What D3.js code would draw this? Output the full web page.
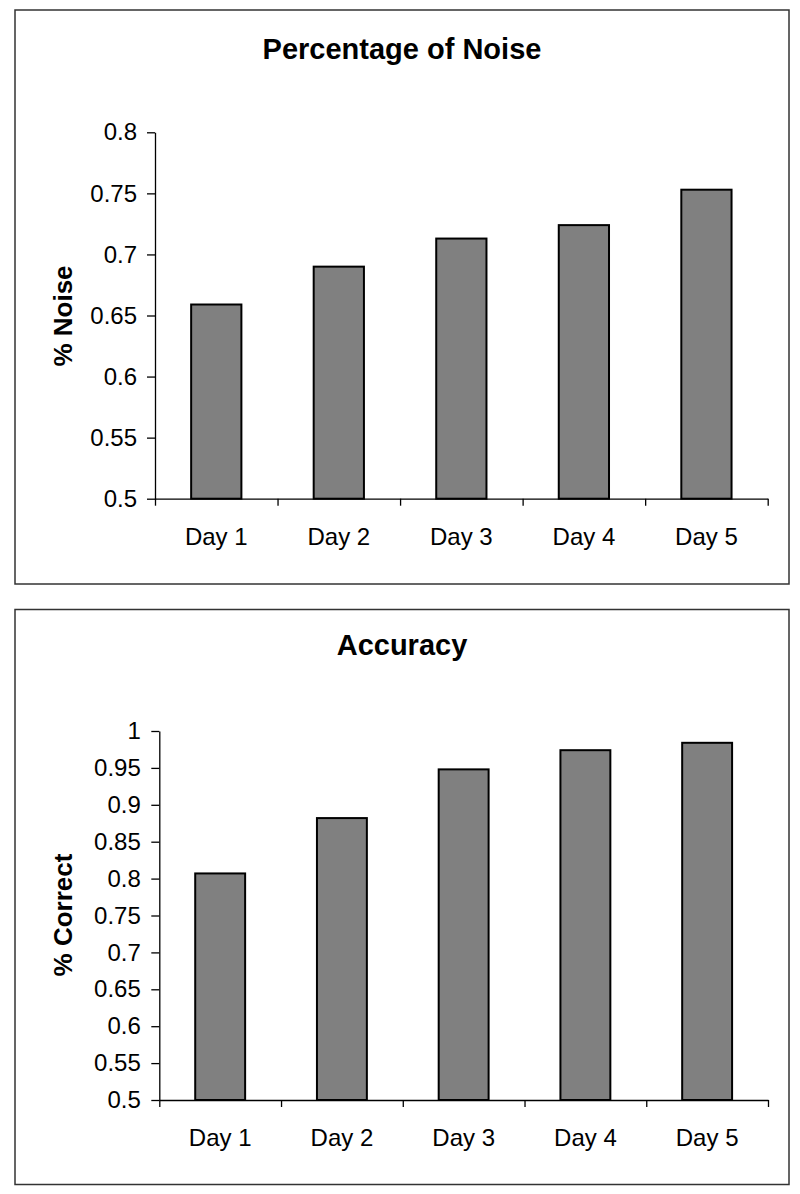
<!DOCTYPE html>
<html>
<head>
<meta charset="utf-8">
<script src="https://cdn.jsdelivr.net/npm/d3@7/dist/d3.min.js"></script>
<style>
  html, body { margin: 0; padding: 0; background: #fff; }
  svg { display: block; }
  text { font-family: "Liberation Sans", Arial, Helvetica, sans-serif; fill: #000; }
</style>
</head>
<body>
<svg id="chart" width="800" height="1194"></svg>
<script>
// ---- Data ----
const categories = ["Day 1", "Day 2", "Day 3", "Day 4", "Day 5"];

const noiseTitle = "Percentage of Noise";
const noiseYLabel = "% Noise";
const noiseValues = [0.659, 0.690, 0.713, 0.724, 0.753];
const noiseTicks = [0.5, 0.55, 0.6, 0.65, 0.7, 0.75, 0.8];
const noiseTickLabels = ["0.5", "0.55", "0.6", "0.65", "0.7", "0.75", "0.8"];

const accTitle = "Accuracy";
const accYLabel = "% Correct";
const accValues = [0.807, 0.882, 0.948, 0.974, 0.984];
const accTicks = [0.5, 0.55, 0.6, 0.65, 0.7, 0.75, 0.8, 0.85, 0.9, 0.95, 1];
const accTickLabels = ["0.5", "0.55", "0.6", "0.65", "0.7", "0.75", "0.8", "0.85", "0.9", "0.95", "1"];

// ---- Drawing ----
const svg = d3.select("#chart");

function drawChart(cfg) {
  const g = svg.append("g");

  // outer frame
  g.append("rect")
    .attr("x", cfg.box.x).attr("y", cfg.box.y)
    .attr("width", cfg.box.w).attr("height", cfg.box.h)
    .attr("fill", "#fff").attr("stroke", "#333").attr("stroke-width", 1.5);

  // title
  g.append("text")
    .attr("x", cfg.box.x + cfg.box.w / 2)
    .attr("y", cfg.titleY)
    .attr("text-anchor", "middle")
    .attr("font-size", 29).attr("font-weight", "bold")
    .text(cfg.title);

  const x = d3.scaleBand()
    .domain(categories)
    .range([cfg.plot.x0, cfg.plot.x1])
    .paddingInner(0.59).paddingOuter(0.295);

  const y = d3.scaleLinear()
    .domain([cfg.ticks[0], cfg.ticks[cfg.ticks.length - 1]])
    .range([cfg.plot.y1, cfg.plot.y0]);

  // bars
  g.selectAll("rect.bar")
    .data(cfg.values)
    .join("rect")
    .attr("class", "bar")
    .attr("x", (d, i) => x(categories[i]))
    .attr("width", x.bandwidth())
    .attr("y", d => y(d))
    .attr("height", d => y(cfg.ticks[0]) - y(d))
    .attr("fill", "#808080")
    .attr("stroke", "#000")
    .attr("stroke-width", 2);

  // y axis
  const yAxis = d3.axisLeft(y)
    .tickValues(cfg.ticks)
    .tickFormat((d, i) => cfg.tickLabels[i])
    .tickSize(8).tickSizeOuter(0).tickPadding(cfg.yPad);
  const ya = g.append("g")
    .attr("transform", `translate(${cfg.plot.x0},0)`)
    .call(yAxis);
  ya.selectAll("text").attr("font-size", 24).attr("font-family", "Liberation Sans, Arial, sans-serif").attr("fill", "#000");
  ya.selectAll("line, path").attr("stroke", "#000").attr("stroke-width", 1.3);

  // x axis: boundary tick marks
  const xb = d3.scaleLinear().domain([0, categories.length]).range([cfg.plot.x0, cfg.plot.x1]);
  const xAxisTicks = d3.axisBottom(xb)
    .tickValues(d3.range(0, categories.length + 1))
    .tickFormat("")
    .tickSize(7).tickSizeOuter(0);
  const xt = g.append("g")
    .attr("transform", `translate(0,${cfg.plot.y1})`)
    .call(xAxisTicks);
  xt.selectAll("line, path").attr("stroke", "#000").attr("stroke-width", 1.3);

  // x axis: category labels
  const xAxisLabels = d3.axisBottom(x).tickSize(0).tickPadding(cfg.xPad);
  const xl = g.append("g")
    .attr("transform", `translate(0,${cfg.plot.y1})`)
    .call(xAxisLabels);
  xl.select("path").remove();
  xl.selectAll("text").attr("font-size", 24).attr("font-family", "Liberation Sans, Arial, sans-serif").attr("fill", "#000");

  // y axis label
  g.append("text")
    .attr("transform", `translate(${cfg.yLabel.x},${cfg.yLabel.y}) rotate(-90)`)
    .attr("text-anchor", "middle")
    .attr("font-size", 26).attr("font-weight", "bold")
    .text(cfg.yLabelText);
}

drawChart({
  box: { x: 15, y: 10, w: 774, h: 574 },
  title: noiseTitle, titleY: 59,
  plot: { x0: 155, x1: 767.7, y0: 132.3, y1: 498.7 },
  values: noiseValues, ticks: noiseTicks, tickLabels: noiseTickLabels,
  yPad: 10, xPad: 29,
  yLabel: { x: 72, y: 316 }, yLabelText: noiseYLabel
});

drawChart({
  box: { x: 15, y: 609.5, w: 774, h: 575 },
  title: accTitle, titleY: 655,
  plot: { x0: 159.3, x1: 768, y0: 731, y1: 1100 },
  values: accValues, ticks: accTicks, tickLabels: accTickLabels,
  yPad: 10.5, xPad: 28.7,
  yLabel: { x: 72, y: 915 }, yLabelText: accYLabel
});
</script>
</body>
</html>
